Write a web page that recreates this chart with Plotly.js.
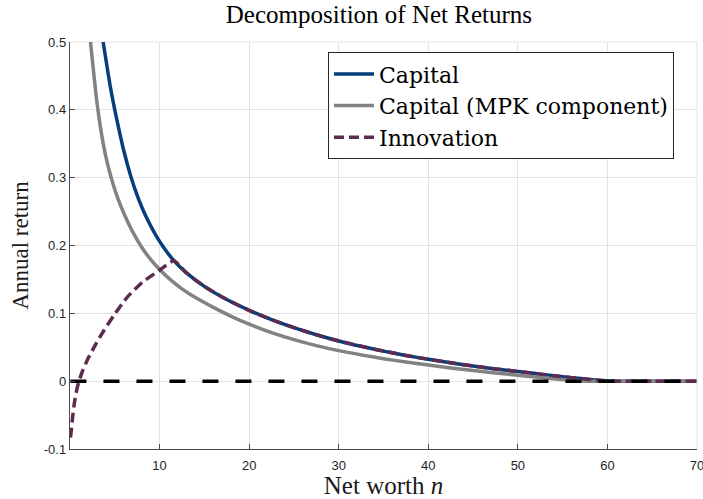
<!DOCTYPE html>
<html>
<head>
<meta charset="utf-8">
<script src="https://cdn.plot.ly/plotly-3.0.1.min.js"></script>
<style>html,body{margin:0;padding:0;background:#fff;}#chart{width:703px;height:499px;}</style>
</head>
<body>
<div id="chart"></div>
<script>
// Capital (total) return
const capitalN = [3.7, 4.0, 4.5, 5.0, 5.5, 6.0, 6.8, 7.5, 8.5, 10.0, 11.6, 13.0, 15.0, 17.5, 20.0, 22.5, 25.0, 27.5, 30.0, 32.5, 35.0, 37.5, 40.0, 42.5, 45.0, 47.5, 50.0, 52.0, 54.0, 56.0, 58.0, 60.0, 61.0, 65.0, 70.0];
const capitalR = [0.5, 0.475, 0.434, 0.4, 0.369, 0.34, 0.3015, 0.274, 0.2424, 0.206, 0.1776, 0.1596, 0.1397, 0.1203, 0.1045, 0.0907, 0.0788, 0.0684, 0.0593, 0.0514, 0.0443, 0.0379, 0.0323, 0.0271, 0.0224, 0.0181, 0.0142, 0.0112, 0.0081, 0.0052, 0.0026, 0.0005, 0, 0, 0];
// Capital, MPK component
const mpkN = [2.29, 2.6, 3.0, 3.5, 4.0, 4.6, 5.3, 6.1, 7.0, 8.0, 9.0, 10.0, 11.2, 12.5, 14.0, 16.0, 18.0, 20.0, 22.5, 25.0, 27.5, 30.0, 32.5, 35.0, 37.5, 40.0, 42.5, 45.0, 47.5, 50.0, 52.0, 54.0, 56.0, 58.0, 60.0, 65.0, 70.0];
const mpkR = [0.5, 0.46, 0.412, 0.366, 0.331, 0.3, 0.271, 0.245, 0.22, 0.1975, 0.1794, 0.1645, 0.1496, 0.136, 0.1232, 0.1088, 0.0956, 0.084, 0.0716, 0.0612, 0.0524, 0.045, 0.0388, 0.0331, 0.0283, 0.0238, 0.0195, 0.0156, 0.012, 0.0088, 0.006, 0.0035, 0.0014, 0, 0, 0, 0];
// Innovation return
const innovN = [0.05, 0.15, 0.3, 0.5, 0.75, 1.0, 1.4, 2.0, 2.85, 3.8, 4.9, 6.4, 8.1, 10.0, 11.6, 13.0, 15.0, 17.5, 20.0, 22.5, 25.0, 27.5, 30.0, 32.5, 35.0, 37.5, 40.0, 42.5, 45.0, 47.5, 50.0, 52.0, 54.0, 56.0, 58.0, 60.0, 61.0, 65.0, 70.0];
const innovR = [-0.083, -0.072, -0.052, -0.031, -0.013, 0, 0.015, 0.033, 0.054, 0.075, 0.097, 0.124, 0.146, 0.1635, 0.1776, 0.1596, 0.1397, 0.1203, 0.1045, 0.0907, 0.0788, 0.0684, 0.0593, 0.0514, 0.0443, 0.0379, 0.0323, 0.0271, 0.0224, 0.0181, 0.0142, 0.0112, 0.0081, 0.0052, 0.0026, 0.0005, 0, 0, 0];
// Zero reference line
const zeroN = [0.05, 70];
const zeroR = [0, 0];

const xTicks = [10, 20, 30, 40, 50, 60, 70];
const yTicks = [-0.1, 0, 0.1, 0.2, 0.3, 0.4, 0.5];
const yTickText = ['-0.1', '0', '0.1', '0.2', '0.3', '0.4', '0.5'];

const serif = 'Liberation Serif, DejaVu Serif, serif';
const legendSerif = 'DejaVu Serif, Liberation Serif, serif';
const sans = 'Liberation Sans, Arial, sans-serif';
const gridCol = '#e3e3e3';

const traces = [
  {x: capitalN, y: capitalR, name: 'Capital', mode: 'lines',
   line: {color: '#063d7b', width: 3.5, shape: 'spline', smoothing: 0.6}},
  {x: mpkN, y: mpkR, name: 'Capital (MPK component)', mode: 'lines',
   line: {color: '#828282', width: 3.5, shape: 'spline', smoothing: 0.6}},
  {x: innovN, y: innovR, name: 'Innovation', mode: 'lines',
   line: {color: '#5c2b4f', width: 3.5, dash: '10px,5px', shape: 'spline', smoothing: 0.5}},
  {x: zeroN, y: zeroR, name: 'zero', mode: 'lines', showlegend: false,
   line: {color: '#000000', width: 3.5, dash: '16px,17px'}}
];

const layout = {
  width: 703, height: 499,
  margin: {l: 70, r: 6, t: 42, b: 50},
  paper_bgcolor: '#ffffff', plot_bgcolor: '#ffffff',
  showlegend: true,
  title: {text: 'Decomposition of Net Returns', font: {family: serif, size: 25, color: '#000'},
          x: 0.539, xanchor: 'center', y: 0.988, yanchor: 'top'},
  shapes: [
    {type: 'line', xref: 'paper', yref: 'paper', x0: 0, x1: 1, y0: 1, y1: 1, line: {color: gridCol, width: 1}, layer: 'below'},
    {type: 'line', xref: 'paper', yref: 'paper', x0: 1, x1: 1, y0: 0, y1: 1, line: {color: gridCol, width: 1}, layer: 'below'}
  ],
  xaxis: {
    range: [0, 70], tickvals: xTicks, ticktext: xTicks.map(String),
    showgrid: true, gridcolor: gridCol, gridwidth: 1,
    showline: true, linecolor: '#4a4a4a', linewidth: 1.2,
    ticks: 'inside', ticklen: 5, tickcolor: '#4a4a4a', tickwidth: 1,
    tickfont: {family: sans, size: 13, color: '#262626'},
    ticklabeloverflow: 'allow', ticklabelstandoff: 4,
    zeroline: false, mirror: false,
    title: {text: 'Net worth <i>n</i>', font: {family: serif, size: 25, color: '#1a1a1a'}, standoff: 3}
  },
  yaxis: {
    range: [-0.1, 0.5], tickvals: yTicks, ticktext: yTickText,
    showgrid: true, gridcolor: gridCol, gridwidth: 1,
    showline: true, linecolor: '#4a4a4a', linewidth: 1.2,
    ticks: 'inside', ticklen: 5, tickcolor: '#4a4a4a', tickwidth: 1,
    tickfont: {family: sans, size: 13, color: '#262626'},
    ticklabeloverflow: 'allow',
    zeroline: false, mirror: false,
    title: {text: 'Annual return', font: {family: serif, size: 23, color: '#1a1a1a'}, standoff: 8}
  },
  legend: {
    x: 0.4115, y: 0.975, xanchor: 'left', yanchor: 'top',
    bgcolor: '#ffffff', bordercolor: '#262626', borderwidth: 1,
    font: {family: legendSerif, size: 22, color: '#000'},
    itemwidth: 40, tracegroupgap: 0
  }
};

Plotly.newPlot('chart', traces, layout, {displayModeBar: false, staticPlot: true});
</script>
</body>
</html>
